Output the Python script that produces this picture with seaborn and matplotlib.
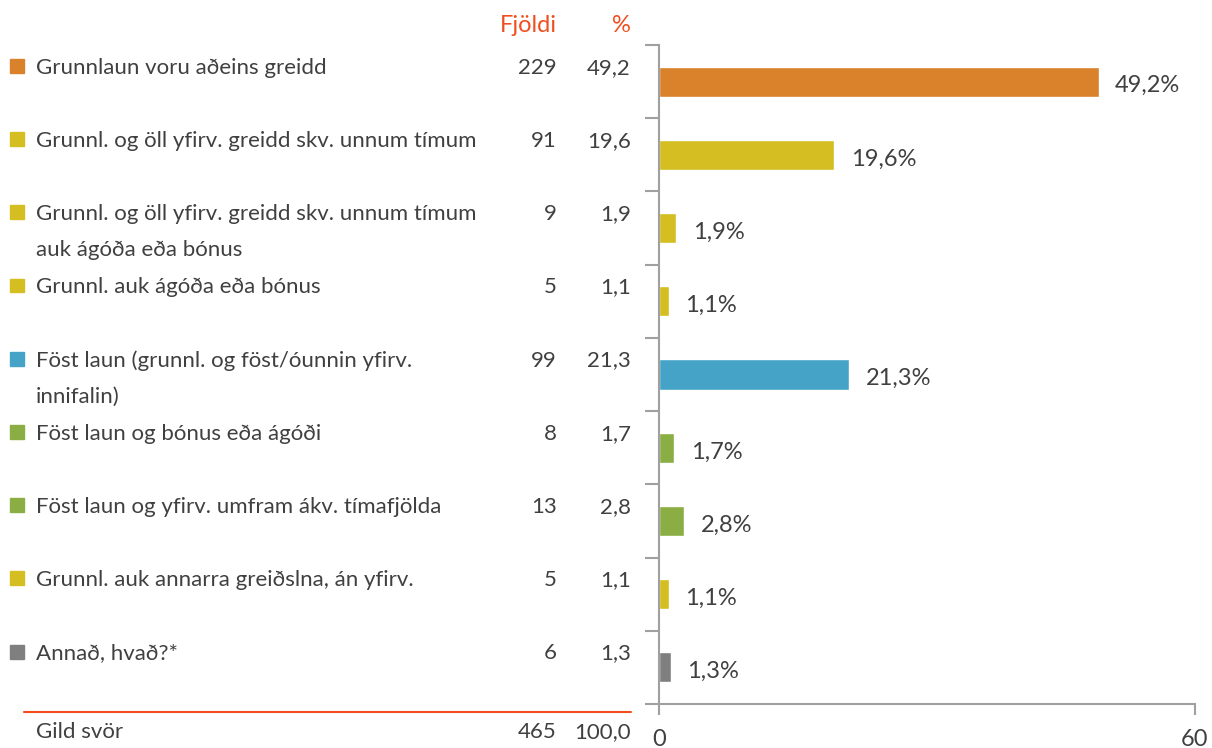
import pandas as pd
import matplotlib
matplotlib.use('Agg')
import matplotlib.pyplot as plt
import matplotlib.transforms as mtransforms
from matplotlib.patches import Rectangle
import seaborn as sns

# Data
labels = ['Grunnlaun voru aðeins greidd',
          'Grunnl. og öll yfirv. greidd skv. unnum tímum',
          'Grunnl. og öll yfirv. greidd skv. unnum tímum\nauk ágóða eða bónus',
          'Grunnl. auk ágóða eða bónus',
          'Föst laun (grunnl. og föst/óunnin yfirv.\ninnifalin)',
          'Föst laun og bónus eða ágóði',
          'Föst laun og yfirv. umfram ákv. tímafjölda',
          'Grunnl. auk annarra greiðslna, án yfirv.',
          'Annað, hvað?*']
counts = [229, 91, 9, 5, 99, 8, 13, 5, 6]
pcts = [49.2, 19.6, 1.9, 1.1, 21.3, 1.7, 2.8, 1.1, 1.3]
colors = ['#D9822B', '#D4BE22', '#D4BE22', '#D4BE22', '#45A3C8',
          '#8AAE43', '#8AAE43', '#D4BE22', '#7F7F7F']
total_label = 'Gild svör'
total_count = 465
total_pct = '100,0'

df = pd.DataFrame({'label': labels, 'pct': pcts})

sns.set_style('white')
plt.rcParams['font.family'] = ['Lato', 'DejaVu Sans']

TXT = '#404040'
ACC = '#F04E1E'
AX = '#A0A0A0'
FS = 16

fig = plt.figure(figsize=(12.12, 7.48), dpi=100)
ax = fig.add_axes([659 / 1212, 1 - 704 / 748, 536 / 1212, 659 / 748])

sns.barplot(data=df, y='label', x='pct', hue='label', palette=colors,
            orient='h', width=0.41, legend=False, ax=ax, saturation=1)

ax.set_xlim(0, 60)
ax.set_ylim(len(labels) - 0.5, -0.5)
ax.set_xticks([0, 60])
ax.set_xticklabels(['0', '60'], fontsize=FS + 1, color=TXT)
ax.set_yticks([i - 0.5 for i in range(len(labels) + 1)])
ax.set_yticklabels([])
ax.set_xlabel('')
ax.set_ylabel('')
ax.tick_params(axis='both', colors=AX, length=10, width=1.5,
               left=True, bottom=True)
ax.tick_params(axis='x', labelcolor=TXT, length=8, pad=10)
for s in ['top', 'right']:
    ax.spines[s].set_visible(False)
for s in ['left', 'bottom']:
    ax.spines[s].set_color(AX)
    ax.spines[s].set_linewidth(1.5)

# value labels
for i, p in enumerate(pcts):
    ax.annotate(f'{p:.1f}%'.replace('.', ','), (p, i), xytext=(12, -3),
                textcoords='offset points', va='center', ha='left',
                fontsize=FS + 1, color=TXT)

# left-hand table
tr = mtransforms.blended_transform_factory(fig.transFigure, ax.transData)
line_gap = 36 / 73.2
for i, (lab, c, p, col) in enumerate(zip(labels, counts, pcts, colors)):
    y0 = i - 0.19
    for j, part in enumerate(lab.split('\n')):
        fig.text(36 / 1212, y0 + j * line_gap, part, transform=tr,
                 ha='left', va='center', fontsize=FS, color=TXT)
    fig.add_artist(Rectangle((10 / 1212, y0 - 0.12), 14 / 1212, 0.19,
                             transform=tr, color=col, clip_on=False))
    fig.text(557 / 1212, y0, str(c), transform=tr, ha='right', va='center',
             fontsize=FS, color=TXT)
    fig.text(631 / 1212, y0, f'{p:.1f}'.replace('.', ','), transform=tr,
             ha='right', va='center', fontsize=FS, color=TXT)

fig.text(557 / 1212, 1 - 25 / 748, 'Fjöldi', ha='right', va='center',
         fontsize=FS + 1, color=ACC)
fig.text(631 / 1212, 1 - 25 / 748, '%', ha='right', va='center',
         fontsize=FS + 1, color=ACC)

fig.add_artist(plt.Line2D([24 / 1212, 631 / 1212], [1 - 712 / 748] * 2,
                          color=ACC, lw=1.5))
yb = 1 - 732 / 748
fig.text(36 / 1212, yb, total_label, ha='left', va='center', fontsize=FS, color=TXT)
fig.text(557 / 1212, yb, str(total_count), ha='right', va='center', fontsize=FS, color=TXT)
fig.text(631 / 1212, yb, total_pct, ha='right', va='center', fontsize=FS, color=TXT)

fig.savefig('out.png', dpi=100)
